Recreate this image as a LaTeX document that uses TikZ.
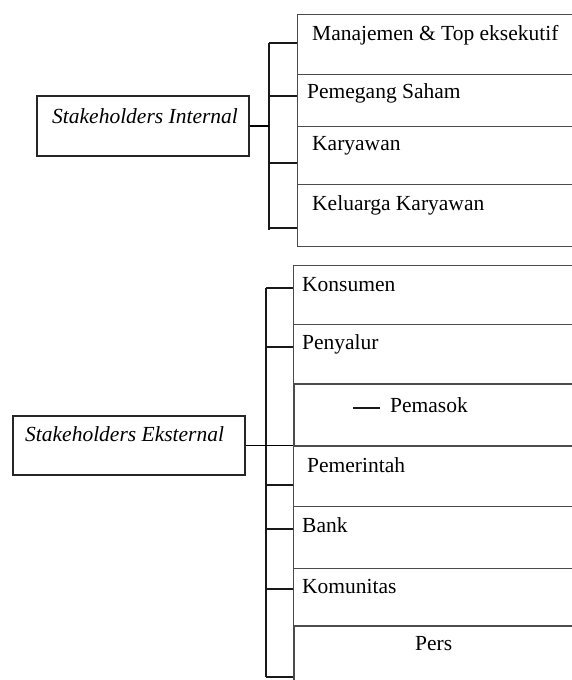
\documentclass[tikz,border=0pt]{standalone}
\usepackage{fontspec}
\setmainfont{Liberation Serif}
\begin{document}
\begin{tikzpicture}[x=1pt, y=-1pt, font=\fontsize{21.5}{25}\selectfont,
    box/.style={draw=black!85, line width=1.6pt, rectangle, anchor=north west, inner sep=0pt},
    row/.style={draw=black!70, line width=1.1pt, rectangle, anchor=north west, minimum width=300pt, inner sep=0pt},
    lbl/.style={anchor=base west, inner sep=0pt},
    brk/.style={line width=1.8pt, black!90}]
\useasboundingbox (0,0) rectangle (572,680);
\clip (0,0) rectangle (572,680);

% internal side
\node[box, minimum width=212pt, minimum height=60pt] (int) at (36,95) {};
\node[lbl] (intT) at (52,123) {\textit{Stakeholders Internal}};

\node[row, minimum height=60pt] (i1) at (297,14) {};
\node[row, minimum height=52pt] (i2) at (297,74) {};
\node[row, minimum height=58pt] (i3) at (297,126) {};
\node[row, minimum height=62pt] (i4) at (297,184) {};
\node[lbl] (i1T) at (312,40) {Manajemen \& Top eksekutif};
\node[lbl] (i2T) at (307,98) {Pemegang Saham};
\node[lbl] (i3T) at (312,150) {Karyawan};
\node[lbl] (i4T) at (312,210) {Keluarga Karyawan};

\coordinate (bi) at (269,43);
\coordinate (biEnd) at (269,230);
\draw[brk] (bi) -- (biEnd);
\draw[line width=1.4pt] (int.east) -- (int.east -| bi);
\foreach \y/\r in {43/i1, 96/i2, 163/i3, 228/i4}
    \draw[brk] (bi |- 0,\y) -- (\r.west |- 0,\y);

% external side
\node[box, minimum width=232pt, minimum height=59pt] (ext) at (12,415) {};
\node[lbl] (extT) at (25,441) {\textit{Stakeholders Eksternal}};

\node[row, minimum height=59pt] (e1) at (293,265) {};
\node[row, minimum height=59pt] (e2) at (293,324) {};
\node[row, minimum height=62pt, line width=1.8pt] (e3) at (293,383) {};
\node[row, minimum height=61pt] (e4) at (293,445) {};
\node[row, minimum height=62pt] (e5) at (293,506) {};
\node[row, minimum height=57pt] (e6) at (293,568) {};
\node[row, minimum height=70pt, line width=1.8pt] (e7) at (293,625) {};
\node[lbl] (e1T) at (302,291) {Konsumen};
\node[lbl] (e2T) at (302,349) {Penyalur};
\node[lbl] (e3T) at (390,412) {Pemasok};
\node[lbl] (e4T) at (307,472) {Pemerintah};
\node[lbl] (e5T) at (302,532) {Bank};
\node[lbl] (e6T) at (302,593) {Komunitas};
\node[lbl] (e7T) at (415,650) {Pers};

\coordinate (be) at (266,288);
\coordinate (beEnd) at (266,677);
\draw[brk] (be) -- (beEnd);
\draw[line width=1.4pt] (ext.east) -- (ext.east -| e4.west);
\foreach \y/\r in {288/e1, 347/e2, 485/e4, 529/e5, 589/e6, 677/e7}
    \draw[brk] (be |- 0,\y) -- (\r.west |- 0,\y);
\coordinate (dashL) at (353,408);
\draw[brk] (dashL) -- ++(27,0);
\end{tikzpicture}
\end{document}
